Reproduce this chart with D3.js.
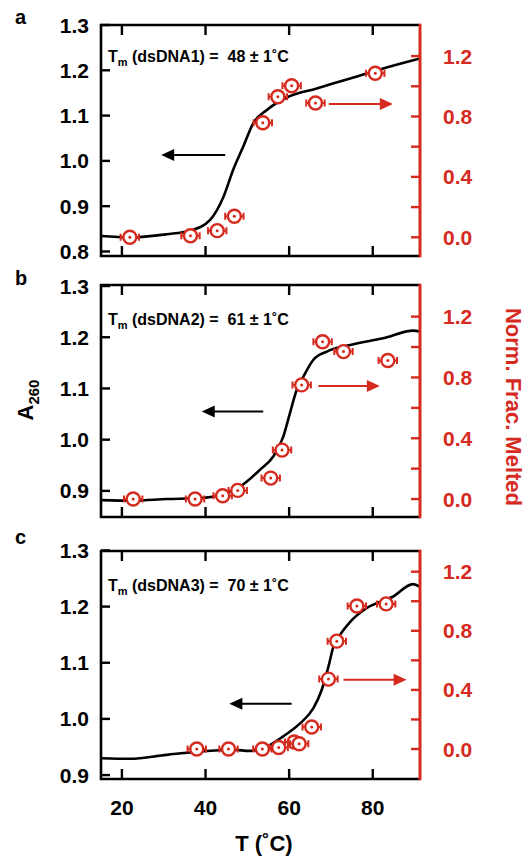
<!DOCTYPE html>
<html>
<head>
<meta charset="utf-8">
<script src="https://cdn.jsdelivr.net/npm/d3@7"></script>
<style>
  body { margin: 0; background: #fff; }
  text { font-family: "Liberation Sans", Arial, sans-serif; font-weight: bold; }
</style>
</head>
<body>
<div id="chart"></div>
<script>
// ---- data ----
// absorbance curves (left axis, A260)
var curveT_a = [15.0, 21.9, 30.7, 36.3, 41.1, 44.3, 46.6, 49.0, 51.4, 54.6, 59.4, 66.6, 74.6, 82.5, 91.3];
var curveA_a = [0.834, 0.831, 0.838, 0.846, 0.870, 0.921, 0.980, 1.031, 1.083, 1.112, 1.140, 1.160, 1.182, 1.204, 1.226];
var curveT_b = [15.0, 22.7, 30.7, 38.7, 43.5, 48.2, 53.0, 56.2, 58.6, 60.2, 61.8, 63.4, 65.8, 69.0, 74.6, 82.5, 89.7, 91.3];
var curveA_b = [0.882, 0.881, 0.884, 0.886, 0.892, 0.908, 0.941, 0.967, 1.006, 1.052, 1.097, 1.123, 1.156, 1.172, 1.185, 1.198, 1.213, 1.211];
var curveT_c = [15.0, 21.9, 30.7, 38.7, 46.6, 50.6, 53.8, 58.6, 62.6, 65.8, 67.8, 69.4, 70.6, 72.2, 74.6, 78.5, 84.9, 89.6, 91.3];
var curveA_c = [0.930, 0.929, 0.936, 0.942, 0.945, 0.943, 0.948, 0.969, 0.992, 1.019, 1.052, 1.093, 1.129, 1.150, 1.173, 1.197, 1.218, 1.240, 1.235];

// normalised fraction melted (right axis)
var pointT_a = [21.9, 36.4, 42.8, 46.9, 53.7, 57.3, 60.6, 66.3, 80.6];
var pointF_a = [0.0, 0.01, 0.044, 0.139, 0.759, 0.931, 1.004, 0.889, 1.086];
var pointT_b = [22.7, 37.5, 44.1, 47.7, 55.6, 58.3, 63.0, 68.0, 73.0, 83.6];
var pointF_b = [0.0, 0.0, 0.022, 0.057, 0.138, 0.322, 0.751, 1.035, 0.970, 0.911];
var pointT_c = [37.9, 45.5, 53.6, 57.5, 61.2, 62.4, 65.4, 69.4, 71.4, 76.2, 83.2];
var pointF_c = [0.0, 0.0, 0.0, 0.01, 0.047, 0.036, 0.149, 0.473, 0.73, 0.968, 0.982];
var tempErr = 2.2;

var panelNames = ["a", "b", "c"];
var dnaNames = ["dsDNA1", "dsDNA2", "dsDNA3"];
var tmValues = [48, 61, 70];
var tmErr = 1;

var xTicks = [20, 40, 60, 80];
var leftTicks_a = [0.8, 0.9, 1.0, 1.1, 1.2, 1.3];
var leftTicks_b = [0.9, 1.0, 1.1, 1.2, 1.3];
var leftTicks_c = [0.9, 1.0, 1.1, 1.2, 1.3];
var rightTicks = [0.0, 0.4, 0.8, 1.2];
var rightMinor = [0.2, 0.6, 1.0];

// arrows: [from T, to T, level] (black on left axis, red on right axis)
var blackArrows = [[44.7, 29.4, 1.013], [53.8, 39.1, 1.055], [60.6, 45.7, 1.027]];
var redArrows = [[69.5, 84.8, 0.883], [67.0, 81.7, 0.744], [73.0, 88.1, 0.468]];

var red = "#d62a1f";
var W = 530, H = 857;

var svg = d3.select("#chart").append("svg")
    .attr("width", W)
    .attr("height", H);

var x = d3.scaleLinear().domain([15, 91.3]).range([101, 420]);

var panels = [
    { top: 25, bottom: 256, yDom: [0.790, 1.300], fDom: [-0.124, 1.406], ticks: leftTicks_a,
      cT: curveT_a, cA: curveA_a, pT: pointT_a, pF: pointF_a, labelY: 24, tmY: 62 },
    { top: 285, bottom: 517, yDom: [0.849, 1.302], fDom: [-0.118, 1.408], ticks: leftTicks_b,
      cT: curveT_b, cA: curveA_b, pT: pointT_b, pF: pointF_b, labelY: 285, tmY: 325 },
    { top: 551, bottom: 779, yDom: [0.893, 1.299], fDom: [-0.203, 1.340], ticks: leftTicks_c,
      cT: curveT_c, cA: curveA_c, pT: pointT_c, pF: pointF_c, labelY: 544, tmY: 591 }
];

panels.forEach(function (p, i) {
    var g = svg.append("g");
    var y = d3.scaleLinear().domain(p.yDom).range([p.bottom, p.top]);
    var yf = d3.scaleLinear().domain(p.fDom).range([p.bottom, p.top]);
    var x0 = x.range()[0], x1 = x.range()[1];

    // black melting curve
    var line = d3.line()
        .x(function (d) { return x(d[0]); })
        .y(function (d) { return y(d[1]); })
        .curve(d3.curveMonotoneX);
    g.append("path")
        .datum(d3.zip(p.cT, p.cA))
        .attr("d", line)
        .attr("fill", "none")
        .attr("stroke", "#000")
        .attr("stroke-width", 2.6);

    // arrows
    var ba = blackArrows[i];
    g.append("line")
        .attr("x1", x(ba[0])).attr("x2", x(ba[1]) + 10)
        .attr("y1", y(ba[2])).attr("y2", y(ba[2]))
        .attr("stroke", "#000").attr("stroke-width", 2);
    g.append("path")
        .attr("d", "M" + x(ba[1]) + "," + y(ba[2]) + "l13,-6l0,12z")
        .attr("fill", "#000");
    var ra = redArrows[i];
    g.append("line")
        .attr("x1", x(ra[0])).attr("x2", x(ra[1]) - 10)
        .attr("y1", yf(ra[2])).attr("y2", yf(ra[2]))
        .attr("stroke", red).attr("stroke-width", 2);
    g.append("path")
        .attr("d", "M" + x(ra[1]) + "," + yf(ra[2]) + "l-13,-6l0,12z")
        .attr("fill", red);

    // red points with horizontal error bars
    var pts = g.selectAll(".pt")
        .data(d3.zip(p.pT, p.pF))
        .enter()
        .append("g")
        .attr("transform", function (d) { return "translate(" + x(d[0]) + "," + yf(d[1]) + ")"; });
    var ew = x(tempErr) - x(0);
    pts.append("path")
        .attr("d", "M" + (-ew) + ",0H" + ew + "M" + (-ew) + ",-3.5v7M" + ew + ",-3.5v7")
        .attr("stroke", red).attr("stroke-width", 2).attr("fill", "none");
    pts.append("circle")
        .attr("r", 6.5)
        .attr("fill", "#fff")
        .attr("stroke", red)
        .attr("stroke-width", 2.4);
    pts.append("circle")
        .attr("r", 1.5)
        .attr("fill", red);

    // frame
    g.append("path")
        .attr("d", "M" + x1 + "," + p.top + "H" + x0 + "V" + p.bottom + "H" + x1)
        .attr("fill", "none").attr("stroke", "#000").attr("stroke-width", 2.6);
    g.append("line")
        .attr("x1", x1).attr("x2", x1)
        .attr("y1", p.top - 1.3).attr("y2", p.bottom + 1.3)
        .attr("stroke", red).attr("stroke-width", 3);

    // x ticks (inward, top & bottom)
    xTicks.forEach(function (t) {
        g.append("line").attr("x1", x(t)).attr("x2", x(t))
            .attr("y1", p.top).attr("y2", p.top + 10)
            .attr("stroke", "#000").attr("stroke-width", 2.4);
        g.append("line").attr("x1", x(t)).attr("x2", x(t))
            .attr("y1", p.bottom).attr("y2", p.bottom - 10)
            .attr("stroke", "#000").attr("stroke-width", 2.4);
    });

    // left ticks and labels
    p.ticks.forEach(function (t) {
        g.append("line").attr("x1", x0).attr("x2", x0 + 9)
            .attr("y1", y(t)).attr("y2", y(t))
            .attr("stroke", "#000").attr("stroke-width", 2.4);
        g.append("text")
            .attr("x", 89).attr("y", y(t))
            .attr("dy", "0.36em")
            .attr("text-anchor", "end")
            .style("font-size", "21px")
            .text(d3.format(".1f")(t));
    });

    // right ticks and labels
    rightTicks.concat(rightMinor).forEach(function (t) {
        g.append("line").attr("x1", x1).attr("x2", x1 - 9)
            .attr("y1", yf(t)).attr("y2", yf(t))
            .attr("stroke", red).attr("stroke-width", 2.4);
    });
    rightTicks.forEach(function (t) {
        g.append("text")
            .attr("x", 443).attr("y", yf(t))
            .attr("dy", "0.36em")
            .attr("fill", red)
            .style("font-size", "21px")
            .text(d3.format(".1f")(t));
    });

    // panel letter
    g.append("text")
        .attr("x", 15).attr("y", p.labelY)
        .style("font-size", "20px")
        .text(panelNames[i]);

    // Tm annotation
    var tm = g.append("text")
        .attr("x", 108).attr("y", p.tmY)
        .style("font-size", "16px")
        .style("white-space", "pre");
    tm.append("tspan").text("T");
    tm.append("tspan").attr("dy", 4).style("font-size", "11px").text("m");
    tm.append("tspan").attr("dy", -4)
        .text(" (" + dnaNames[i] + ") =  " + tmValues[i] + " \u00b1 " + tmErr + "\u02daC");
});

// bottom x tick labels
xTicks.forEach(function (t) {
    svg.append("text")
        .attr("x", x(t)).attr("y", 815)
        .attr("text-anchor", "middle")
        .style("font-size", "21px")
        .text(t);
});

svg.append("text")
    .attr("x", 264).attr("y", 851)
    .attr("text-anchor", "middle")
    .style("font-size", "22px")
    .text("T (\u02daC)");

var yl = svg.append("text")
    .attr("transform", "translate(33,400) rotate(-90)")
    .attr("text-anchor", "middle")
    .style("font-size", "22px");
yl.append("tspan").text("A");
yl.append("tspan").attr("dy", 6).style("font-size", "15px").text("260");

svg.append("text")
    .attr("transform", "translate(506,407) rotate(90)")
    .attr("text-anchor", "middle")
    .attr("fill", red)
    .style("font-size", "22px")
    .text("Norm. Frac. Melted");
</script>
</body>
</html>
